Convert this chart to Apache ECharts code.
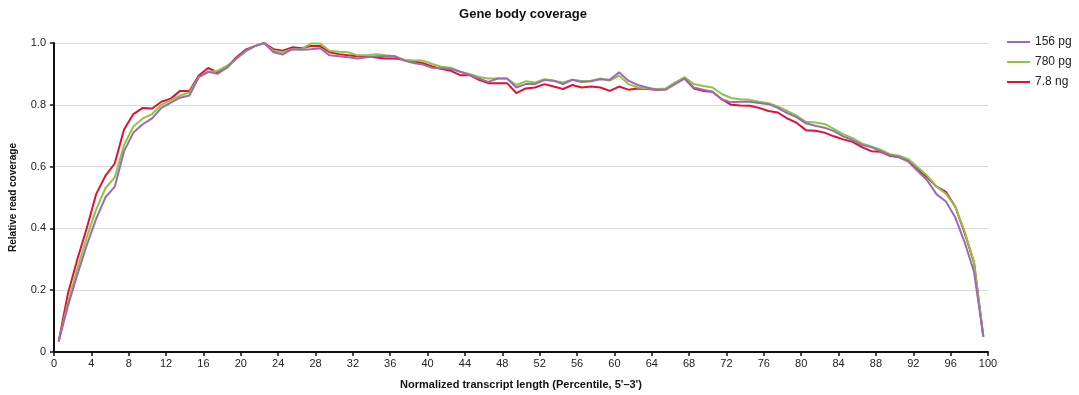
<!DOCTYPE html>
<html>
<head>
<meta charset="utf-8">
<script src="https://cdn.jsdelivr.net/npm/echarts@6/dist/echarts.min.js"></script>
<style>
  html, body { margin: 0; padding: 0; background: #fff; }
  #chart { width: 1079px; height: 395px; }
</style>
</head>
<body>
<div id="chart"></div>
<script>
// Percentile positions along the transcript (5' -> 3'), one per bin
const percentiles = Array.from({ length: 100 }, (_, i) => i + 0.5);

const seriesNames = ['156 pg', '780 pg', '7.8 ng'];
const seriesColors = ['#9b6bb5', '#8dc641', '#e2112f'];

// Relative read coverage per percentile bin
const cov156pg = [
  0.034, 0.15, 0.25, 0.345, 0.43, 0.50, 0.535, 0.65, 0.71, 0.737,
  0.756, 0.79, 0.807, 0.823, 0.83, 0.89, 0.907, 0.90, 0.92, 0.95,
  0.975, 0.99, 1.0, 0.97, 0.963, 0.98, 0.978, 0.98, 0.983, 0.96,
  0.957, 0.954, 0.95, 0.954, 0.957, 0.957, 0.957, 0.943, 0.935, 0.93,
  0.92, 0.918, 0.916, 0.907, 0.896, 0.885, 0.874, 0.885, 0.885, 0.856,
  0.867, 0.867, 0.88, 0.878, 0.867, 0.881, 0.874, 0.876, 0.883, 0.881,
  0.905, 0.878, 0.864, 0.856, 0.849, 0.849, 0.867, 0.885, 0.856, 0.849,
  0.842, 0.818, 0.808, 0.81, 0.81, 0.806, 0.802, 0.79, 0.773, 0.76,
  0.74, 0.732, 0.726, 0.715, 0.698, 0.686, 0.67, 0.663, 0.65, 0.637,
  0.631, 0.615, 0.585, 0.555, 0.51, 0.487, 0.435, 0.355, 0.26, 0.05
];
const cov780pg = [
  0.034, 0.16, 0.27, 0.37, 0.46, 0.53, 0.565, 0.67, 0.73, 0.756,
  0.77, 0.80, 0.815, 0.83, 0.84, 0.89, 0.905, 0.91, 0.926, 0.948,
  0.972, 0.99, 1.0, 0.975, 0.97, 0.98, 0.98, 0.998, 0.998, 0.975,
  0.972, 0.97, 0.96, 0.96, 0.964, 0.96, 0.957, 0.946, 0.943, 0.943,
  0.932, 0.923, 0.92, 0.907, 0.90, 0.89, 0.885, 0.885, 0.885, 0.864,
  0.876, 0.872, 0.883, 0.878, 0.872, 0.881, 0.877, 0.878, 0.885, 0.878,
  0.894, 0.867, 0.856, 0.853, 0.851, 0.853, 0.872, 0.89, 0.867, 0.861,
  0.856, 0.835, 0.822, 0.818, 0.816, 0.81, 0.805, 0.795, 0.78, 0.765,
  0.745, 0.743, 0.738, 0.722, 0.705, 0.692, 0.675, 0.665, 0.655, 0.64,
  0.635, 0.624, 0.597, 0.57, 0.535, 0.512, 0.47, 0.39, 0.29, 0.05
];
const cov78ng = [
  0.034, 0.19, 0.30, 0.40, 0.51, 0.57, 0.61, 0.72, 0.77, 0.79,
  0.788, 0.81, 0.82, 0.845, 0.845, 0.895, 0.919, 0.905, 0.92, 0.953,
  0.978, 0.99, 1.0, 0.98, 0.975, 0.986, 0.983, 0.99, 0.99, 0.97,
  0.964, 0.96, 0.957, 0.957, 0.953, 0.95, 0.95, 0.946, 0.94, 0.935,
  0.924, 0.916, 0.91, 0.896, 0.896, 0.881, 0.87, 0.87, 0.87, 0.838,
  0.853, 0.856, 0.867, 0.859, 0.851, 0.864, 0.856, 0.859, 0.856, 0.845,
  0.859, 0.849, 0.853, 0.851, 0.849, 0.851, 0.872, 0.885, 0.853, 0.845,
  0.842, 0.818, 0.80, 0.798, 0.797, 0.79, 0.78, 0.775, 0.756, 0.742,
  0.718, 0.716, 0.71, 0.698, 0.688, 0.68, 0.663, 0.65, 0.648, 0.635,
  0.63, 0.618, 0.59, 0.565, 0.535, 0.518, 0.47, 0.385, 0.29, 0.05
];
const seriesValues = [cov156pg, cov780pg, cov78ng];

const fontFamily = '"Liberation Sans", Arial, Helvetica, sans-serif';
const chart = echarts.init(document.getElementById('chart'), null, { renderer: 'canvas' });

chart.setOption({
  animation: false,
  backgroundColor: '#ffffff',
  textStyle: { fontFamily: fontFamily },
  title: {
    text: 'Gene body coverage',
    left: 518,
    textAlign: 'center',
    top: 3,
    textStyle: { fontSize: 13, fontWeight: 'bold', color: '#111', fontFamily: fontFamily }
  },
  legend: {
    orient: 'vertical',
    left: 1007,
    top: 36,
    padding: 0,
    itemWidth: 23,
    itemHeight: 2,
    itemGap: 8,
    icon: 'rect',
    textStyle: { fontSize: 12, color: '#222', fontFamily: fontFamily },
    data: seriesNames
  },
  grid: { left: 49, right: 91, top: 43, bottom: 43, containLabel: false },
  xAxis: {
    type: 'value',
    min: 0,
    max: 100,
    interval: 4,
    name: "Normalized transcript length (Percentile, 5'\u20133')",
    nameLocation: 'middle',
    nameGap: 27,
    nameTextStyle: { fontSize: 11, fontWeight: 'bold', color: '#111', fontFamily: fontFamily },
    axisLine: { lineStyle: { color: '#111', width: 2 } },
    axisTick: { show: true, length: 4, lineStyle: { color: '#111', width: 1.5 } },
    axisLabel: { fontSize: 11, color: '#222', margin: 6, fontFamily: fontFamily },
    splitLine: { show: false }
  },
  yAxis: {
    type: 'value',
    min: 0,
    max: 1,
    interval: 0.2,
    name: 'Relative read coverage',
    nameLocation: 'middle',
    nameGap: 36,
    nameTextStyle: { fontSize: 10, fontWeight: 'bold', color: '#111', fontFamily: fontFamily },
    axisLine: { show: true, lineStyle: { color: '#111', width: 2 } },
    axisTick: { show: true, length: 4, lineStyle: { color: '#111', width: 1.5 } },
    axisLabel: {
      fontSize: 11, color: '#222', margin: 8, fontFamily: fontFamily,
      formatter: v => (v === 0 ? '0' : v.toFixed(1))
    },
    splitLine: { show: true, lineStyle: { color: '#d9d9d9', width: 1 } }
  },
  series: seriesNames.map((name, k) => ({
    name: name,
    type: 'line',
    showSymbol: false,
    symbol: 'none',
    z: 3 - k,
    color: seriesColors[k],
    lineStyle: { width: 2, color: seriesColors[k] },
    data: percentiles.map((x, i) => [x, seriesValues[k][i]])
  }))
});
</script>
</body>
</html>
